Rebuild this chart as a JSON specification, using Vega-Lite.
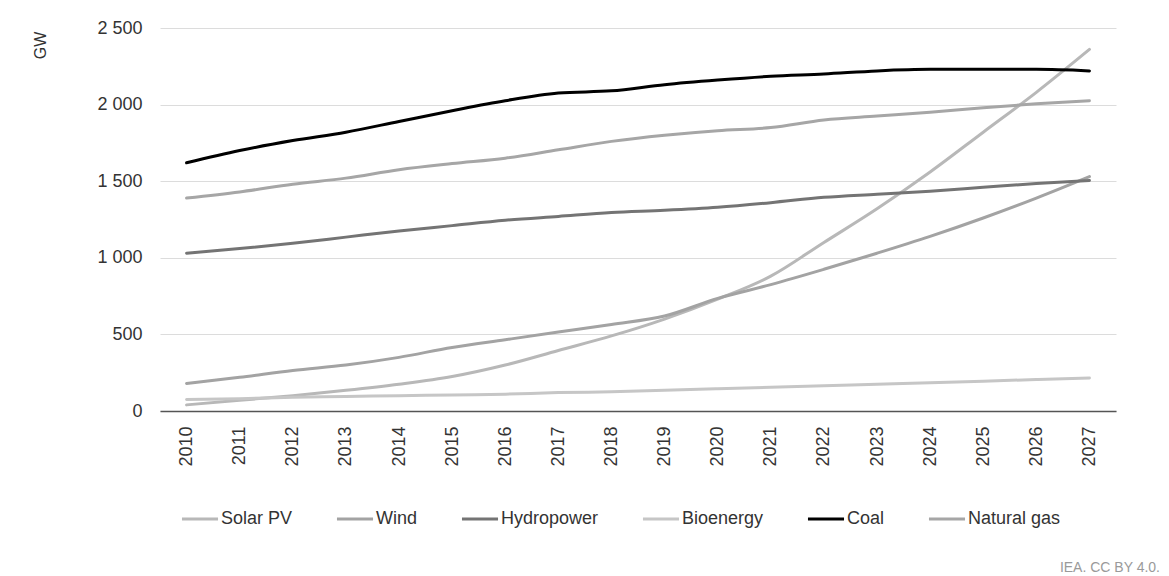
{
  "$schema": "https://vega.github.io/schema/vega-lite/v6.json",
  "autosize": {"type": "none"},
  "padding": {"left": 160, "top": 28, "right": 53, "bottom": 165},
  "width": 956,
  "height": 383,
  "background": "white",
  "config": {
    "font": "Liberation Sans",
    "view": {"stroke": null}
  },
  "title": {
    "text": "IEA. CC BY 4.0.",
    "orient": "bottom",
    "anchor": "end",
    "frame": "group",
    "fontSize": 14,
    "fontWeight": "normal",
    "color": "#9a9a9a",
    "offset": 33,
    "dx": 44
  },
  "data": {
    "values": [
      {"year": "2010", "source": "Solar PV", "gw": 40},
      {"year": "2011", "source": "Solar PV", "gw": 70},
      {"year": "2012", "source": "Solar PV", "gw": 100},
      {"year": "2013", "source": "Solar PV", "gw": 135},
      {"year": "2014", "source": "Solar PV", "gw": 175},
      {"year": "2015", "source": "Solar PV", "gw": 225},
      {"year": "2016", "source": "Solar PV", "gw": 300},
      {"year": "2017", "source": "Solar PV", "gw": 395},
      {"year": "2018", "source": "Solar PV", "gw": 490},
      {"year": "2019", "source": "Solar PV", "gw": 600},
      {"year": "2020", "source": "Solar PV", "gw": 730},
      {"year": "2021", "source": "Solar PV", "gw": 880},
      {"year": "2022", "source": "Solar PV", "gw": 1100},
      {"year": "2023", "source": "Solar PV", "gw": 1320},
      {"year": "2024", "source": "Solar PV", "gw": 1560},
      {"year": "2025", "source": "Solar PV", "gw": 1820},
      {"year": "2026", "source": "Solar PV", "gw": 2080},
      {"year": "2027", "source": "Solar PV", "gw": 2360},
      {"year": "2010", "source": "Wind", "gw": 180},
      {"year": "2011", "source": "Wind", "gw": 220},
      {"year": "2012", "source": "Wind", "gw": 265},
      {"year": "2013", "source": "Wind", "gw": 300},
      {"year": "2014", "source": "Wind", "gw": 350},
      {"year": "2015", "source": "Wind", "gw": 415},
      {"year": "2016", "source": "Wind", "gw": 465},
      {"year": "2017", "source": "Wind", "gw": 515},
      {"year": "2018", "source": "Wind", "gw": 565},
      {"year": "2019", "source": "Wind", "gw": 620},
      {"year": "2020", "source": "Wind", "gw": 735},
      {"year": "2021", "source": "Wind", "gw": 825},
      {"year": "2022", "source": "Wind", "gw": 925},
      {"year": "2023", "source": "Wind", "gw": 1030},
      {"year": "2024", "source": "Wind", "gw": 1140},
      {"year": "2025", "source": "Wind", "gw": 1260},
      {"year": "2026", "source": "Wind", "gw": 1390},
      {"year": "2027", "source": "Wind", "gw": 1530},
      {"year": "2010", "source": "Hydropower", "gw": 1030},
      {"year": "2011", "source": "Hydropower", "gw": 1060},
      {"year": "2012", "source": "Hydropower", "gw": 1095},
      {"year": "2013", "source": "Hydropower", "gw": 1135},
      {"year": "2014", "source": "Hydropower", "gw": 1175},
      {"year": "2015", "source": "Hydropower", "gw": 1210},
      {"year": "2016", "source": "Hydropower", "gw": 1245},
      {"year": "2017", "source": "Hydropower", "gw": 1270},
      {"year": "2018", "source": "Hydropower", "gw": 1295},
      {"year": "2019", "source": "Hydropower", "gw": 1310},
      {"year": "2020", "source": "Hydropower", "gw": 1330},
      {"year": "2021", "source": "Hydropower", "gw": 1360},
      {"year": "2022", "source": "Hydropower", "gw": 1395},
      {"year": "2023", "source": "Hydropower", "gw": 1415},
      {"year": "2024", "source": "Hydropower", "gw": 1435},
      {"year": "2025", "source": "Hydropower", "gw": 1460},
      {"year": "2026", "source": "Hydropower", "gw": 1485},
      {"year": "2027", "source": "Hydropower", "gw": 1505},
      {"year": "2010", "source": "Bioenergy", "gw": 75},
      {"year": "2011", "source": "Bioenergy", "gw": 80},
      {"year": "2012", "source": "Bioenergy", "gw": 90},
      {"year": "2013", "source": "Bioenergy", "gw": 95},
      {"year": "2014", "source": "Bioenergy", "gw": 100},
      {"year": "2015", "source": "Bioenergy", "gw": 105},
      {"year": "2016", "source": "Bioenergy", "gw": 110},
      {"year": "2017", "source": "Bioenergy", "gw": 120},
      {"year": "2018", "source": "Bioenergy", "gw": 125},
      {"year": "2019", "source": "Bioenergy", "gw": 135},
      {"year": "2020", "source": "Bioenergy", "gw": 145},
      {"year": "2021", "source": "Bioenergy", "gw": 155},
      {"year": "2022", "source": "Bioenergy", "gw": 165},
      {"year": "2023", "source": "Bioenergy", "gw": 175},
      {"year": "2024", "source": "Bioenergy", "gw": 185},
      {"year": "2025", "source": "Bioenergy", "gw": 195},
      {"year": "2026", "source": "Bioenergy", "gw": 205},
      {"year": "2027", "source": "Bioenergy", "gw": 215},
      {"year": "2010", "source": "Coal", "gw": 1620},
      {"year": "2011", "source": "Coal", "gw": 1700},
      {"year": "2012", "source": "Coal", "gw": 1765},
      {"year": "2013", "source": "Coal", "gw": 1820},
      {"year": "2014", "source": "Coal", "gw": 1890},
      {"year": "2015", "source": "Coal", "gw": 1960},
      {"year": "2016", "source": "Coal", "gw": 2025},
      {"year": "2017", "source": "Coal", "gw": 2075},
      {"year": "2018", "source": "Coal", "gw": 2090},
      {"year": "2019", "source": "Coal", "gw": 2130},
      {"year": "2020", "source": "Coal", "gw": 2160},
      {"year": "2021", "source": "Coal", "gw": 2185},
      {"year": "2022", "source": "Coal", "gw": 2200},
      {"year": "2023", "source": "Coal", "gw": 2220},
      {"year": "2024", "source": "Coal", "gw": 2230},
      {"year": "2025", "source": "Coal", "gw": 2230},
      {"year": "2026", "source": "Coal", "gw": 2230},
      {"year": "2027", "source": "Coal", "gw": 2220},
      {"year": "2010", "source": "Natural gas", "gw": 1390},
      {"year": "2011", "source": "Natural gas", "gw": 1430},
      {"year": "2012", "source": "Natural gas", "gw": 1480},
      {"year": "2013", "source": "Natural gas", "gw": 1520},
      {"year": "2014", "source": "Natural gas", "gw": 1575},
      {"year": "2015", "source": "Natural gas", "gw": 1615},
      {"year": "2016", "source": "Natural gas", "gw": 1650},
      {"year": "2017", "source": "Natural gas", "gw": 1705},
      {"year": "2018", "source": "Natural gas", "gw": 1760},
      {"year": "2019", "source": "Natural gas", "gw": 1800},
      {"year": "2020", "source": "Natural gas", "gw": 1830},
      {"year": "2021", "source": "Natural gas", "gw": 1850},
      {"year": "2022", "source": "Natural gas", "gw": 1900},
      {"year": "2023", "source": "Natural gas", "gw": 1925},
      {"year": "2024", "source": "Natural gas", "gw": 1950},
      {"year": "2025", "source": "Natural gas", "gw": 1980},
      {"year": "2026", "source": "Natural gas", "gw": 2005},
      {"year": "2027", "source": "Natural gas", "gw": 2025}
    ]
  },
  "mark": {"type": "line", "interpolate": "monotone", "strokeWidth": 3, "strokeCap": "round"},
  "encoding": {
    "x": {
      "field": "year",
      "type": "ordinal",
      "scale": {"type": "point", "padding": 0.5},
      "axis": {
        "title": null,
        "labelAngle": -90,
        "labelAlign": "right",
        "labelBaseline": "middle",
        "labelFontSize": 18,
        "labelColor": "#333333",
        "labelPadding": 15,
        "ticks": false,
        "domainColor": "#555555",
        "domainWidth": 1.5,
        "grid": false
      }
    },
    "y": {
      "field": "gw",
      "type": "quantitative",
      "scale": {"domain": [0, 2500], "nice": false},
      "axis": {
        "title": "GW",
        "titleFontSize": 16,
        "titleFontWeight": "normal",
        "titleColor": "#333333",
        "titleX": -120,
        "titleY": 17,
        "titleAlign": "center",
        "titleBaseline": "middle",
        "titleAngle": -90,
        "values": [0, 500, 1000, 1500, 2000, 2500],
        "labelExpr": "replace(format(datum.value, ','), ',', ' ')",
        "labelFontSize": 18,
        "labelColor": "#333333",
        "labelPadding": 18,
        "ticks": false,
        "domain": false,
        "gridColor": "#dcdcdc",
        "gridWidth": 1
      }
    },
    "color": {
      "field": "source",
      "type": "nominal",
      "sort": ["Solar PV", "Wind", "Hydropower", "Bioenergy", "Coal", "Natural gas"],
      "scale": {
        "domain": ["Solar PV", "Wind", "Hydropower", "Bioenergy", "Coal", "Natural gas"],
        "range": ["#b8b8b8", "#a3a3a3", "#747474", "#c6c6c6", "#000000", "#a6a6a6"]
      },
      "legend": {
        "title": null,
        "orient": "none",
        "legendX": 20,
        "legendY": 471,
        "direction": "horizontal",
        "columns": 6,
        "symbolType": "stroke",
        "symbolSize": 1300,
        "symbolStrokeWidth": 3,
        "labelFontSize": 18,
        "labelColor": "#333333",
        "labelOffset": 1,
        "columnPadding": 37
      }
    }
  }
}
